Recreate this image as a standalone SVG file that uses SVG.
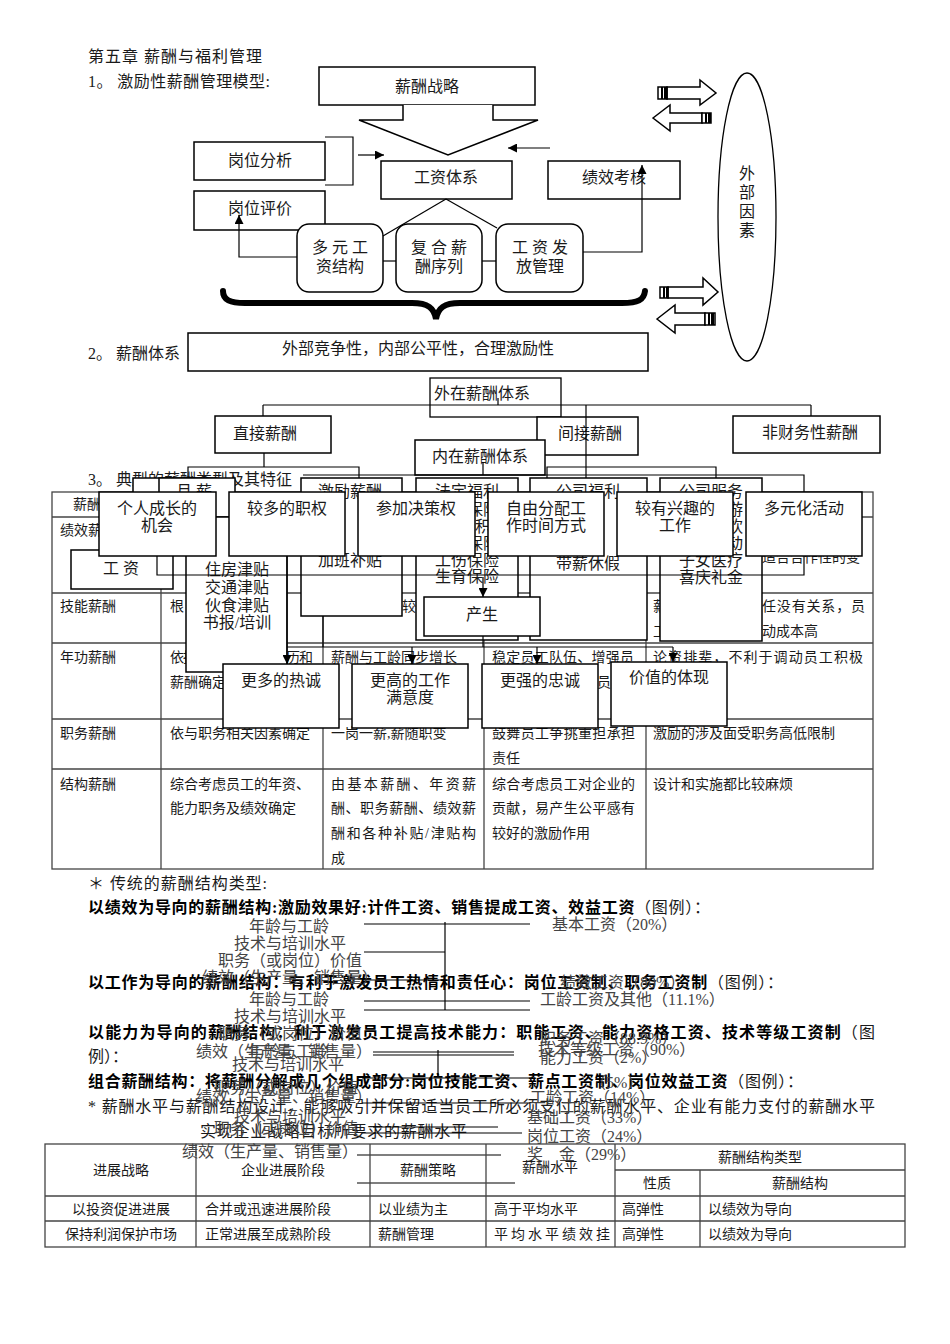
<svg xmlns="http://www.w3.org/2000/svg" width="950" height="1344" viewBox="0 0 950 1344">
<defs>
<marker id="ah" viewBox="0 0 10 10" refX="10" refY="5" markerWidth="9" markerHeight="9" orient="auto" markerUnits="userSpaceOnUse"><path d="M0,0 L10,5 L0,10 Z" fill="#000"/></marker>
<style>
text{font-family:"Liberation Serif","Noto Sans CJK SC",serif;fill:#1a1a1a}
.f16{font-size:16px}
.f15{font-size:15px}
.f14{font-size:14px}
.c{text-anchor:middle}
.b{font-weight:bold;fill:#000}
.g{fill:#444}
.bx{fill:#fff;stroke:#000;stroke-width:1.5}
.bo{fill:none;stroke:#000;stroke-width:1.3}
.ln{fill:none;stroke:#000;stroke-width:1.2}
.tl{fill:none;stroke:#444;stroke-width:1.3}
.st{fill:#000}
</style>
</defs>
<rect width="950" height="1344" fill="#fff"/>

<g id="heading">
<text class="f16" x="88" y="62" textLength="174">第五章 薪酬与福利管理</text>
<text class="f16" x="88" y="87" textLength="182">1。 激励性薪酬管理模型:</text>
</g>

<!-- ===== Section 1: model ===== -->
<g id="n-strategy"><rect class="bx" x="319" y="67" width="216" height="38"/><text class="f16 c" x="427" y="92">薪酬战略</text></g>
<g id="n-chevron"><path class="bx" d="M403,105 L403,120 L359,120 L448,155 L538,120 L493,120 L493,105"/></g>
<g id="n-gwfx"><rect class="bx" x="194" y="142" width="131" height="38"/><text class="f16 c" x="260" y="166">岗位分析</text></g>
<g id="n-gwpj"><rect class="bx" x="194" y="191" width="131" height="39"/><text class="f16 c" x="260" y="214">岗位评价</text></g>
<g id="n-gztx"><rect class="bx" x="381" y="161" width="131" height="38"/><text class="f16 c" x="446" y="183">工资体系</text></g>
<g id="n-jxkh"><rect class="bx" x="548" y="161" width="132" height="38"/><text class="f16 c" x="614" y="183">绩效考核</text></g>
<g id="n-dygz"><rect class="bx" x="297" y="224" width="86" height="68" rx="12"/><text class="f16 c" x="340" y="253">多 元 工</text><text class="f16 c" x="340" y="272">资结构</text></g>
<g id="n-fhxc"><rect class="bx" x="396" y="224" width="86" height="68" rx="12"/><text class="f16 c" x="439" y="253">复 合 薪</text><text class="f16 c" x="439" y="272">酬序列</text></g>
<g id="n-gzff"><rect class="bx" x="496" y="224" width="87" height="68" rx="12"/><text class="f16 c" x="540" y="253">工 资 发</text><text class="f16 c" x="540" y="272">放管理</text></g>
<g id="n-external"><ellipse class="bo" cx="747" cy="217" rx="29" ry="144"/>
<text class="f16 c" x="747" y="179">外</text><text class="f16 c" x="747" y="198">部</text><text class="f16 c" x="747" y="217">因</text><text class="f16 c" x="747" y="236">素</text></g>
<g id="n-hollow-arrows">
<path class="bx" d="M667,87 H700 V80 L716,93 L700,105 V99 H667 Z"/>
<rect x="658" y="87" width="9" height="12" class="bx" stroke-width="1"/><rect class="st" x="661" y="87" width="2" height="12"/><rect class="st" x="664" y="87" width="3" height="12"/>
<path class="bx" d="M653,118 L670,105 V113 H702 V123 H670 V131 Z"/>
<rect x="702" y="113" width="9" height="10" class="bx" stroke-width="1"/><rect class="st" x="705" y="113" width="2" height="10"/><rect class="st" x="708" y="113" width="3" height="10"/>
<path class="bx" d="M668,287 H703 V278 L718,292 L703,305 V298 H668 Z"/>
<rect x="660" y="287" width="8" height="11" class="bx" stroke-width="1"/><rect class="st" x="663" y="287" width="2" height="11"/><rect class="st" x="666" y="287" width="2" height="11"/>
<path class="bx" d="M657,319 L675,305 V313 H705 V325 H675 V333 Z"/>
<rect x="705" y="313" width="10" height="12" class="bx" stroke-width="1"/><rect class="st" x="708" y="313" width="2" height="12"/><rect class="st" x="711" y="313" width="3" height="12"/>
</g>

<g id="connectors-model">
<polyline class="ln" points="325,137 353,137 353,185 325,185"/>
<line class="ln" x1="358" y1="155" x2="384" y2="155" marker-end="url(#ah)"/>
<line class="ln" x1="550" y1="148" x2="508" y2="148" marker-end="url(#ah)"/>
<line class="ln" x1="446" y1="199" x2="383" y2="236"/>
<line class="ln" x1="446" y1="199" x2="497" y2="228"/>
<line class="ln" x1="383" y1="261" x2="396" y2="261"/>
<line class="ln" x1="482" y1="261" x2="496" y2="261"/>
<polyline class="ln" points="297,257 239,257 239,215" marker-end="url(#ah)"/>
<polyline class="ln" points="583,252 642,252 642,165" marker-end="url(#ah)"/>
<path d="M223,291 C223,300 230,303 245,303 L412,303 C428,303 434,308 436,319 C438,308 444,303 460,303 L622,303 C638,303 644,300 645,291" fill="none" stroke="#000" stroke-width="6" stroke-linecap="round"/>
</g>

<!-- ===== Section 2 ===== -->
<g id="sec2-title"><text class="f16" x="88" y="359">2。 薪酬体系</text></g>
<g id="n-principle"><rect class="bx" x="188" y="333" width="460" height="38"/><text class="f16 c" x="418" y="354">外部竞争性，内部公平性，合理激励性</text></g>

<!-- ===== Section 3 table ===== -->
<g id="table1">
<text class="f16" x="88" y="485">3。 典型的薪酬类型及其特征</text>
<g class="tl">
<rect x="52" y="492" width="821" height="377"/>
<line x1="52" y1="517" x2="873" y2="517"/>
<line x1="52" y1="593" x2="873" y2="593"/>
<line x1="52" y1="643" x2="873" y2="643"/>
<line x1="52" y1="719" x2="873" y2="719"/>
<line x1="52" y1="769" x2="873" y2="769"/>
<line x1="161" y1="492" x2="161" y2="869"/>
<line x1="323" y1="492" x2="323" y2="869"/>
<line x1="484" y1="492" x2="484" y2="869"/>
<line x1="646" y1="492" x2="646" y2="869"/>
</g>
<text class="f14" x="73" y="509">薪酬类型</text>
<text class="f14" x="60" y="535">绩效薪酬</text>
<text class="f14" x="762" y="562">适合合作性的变</text>
<text class="f14" x="60" y="611">技能薪酬</text>
<text class="f14" x="170" y="611">根</text>
<text class="f14" x="402" y="611">较高</text>
<text class="f14" x="653" y="611">薪</text>
<text class="f14" x="762" y="611" textLength="103">任没有关系，员</text>
<text class="f14" x="653" y="636">工</text>
<text class="f14" x="762" y="636">动成本高</text>
<text class="f14" x="60" y="662">年功薪酬</text>
<text class="f14" x="170" y="662" textLength="143">依据员工的年资、学历和</text>
<text class="f14" x="170" y="687">薪酬确定</text>
<text class="f14" x="331" y="662">薪酬与工龄同步增长</text>
<text class="f14" x="492" y="662" textLength="142">稳定员工队伍、增强员</text>
<text class="f14" x="597" y="687">员</text>
<text class="f14" x="653" y="662" textLength="210">论资排辈，不利于调动员工积极</text>
<text class="f14" x="60" y="738">职务薪酬</text>
<text class="f14" x="170" y="738">依与职务相关因素确定</text>
<text class="f14" x="331" y="738">一岗一薪,薪随职变</text>
<text class="f14" x="492" y="738" textLength="143">鼓舞员工争挑重担承担</text>
<text class="f14" x="492" y="763">责任</text>
<text class="f14" x="653" y="738">激励的涉及面受职务高低限制</text>
<text class="f14" x="60" y="789">结构薪酬</text>
<text class="f14" x="170" y="789">综合考虑员工的年资、</text>
<text class="f14" x="170" y="813">能力职务及绩效确定</text>
<text class="f14" x="331" y="789" textLength="145">由基本薪酬、年资薪</text>
<text class="f14" x="331" y="813" textLength="145">酬、职务薪酬、绩效薪</text>
<text class="f14" x="331" y="838" textLength="145">酬和各种补贴/津贴构</text>
<text class="f14" x="331" y="863">成</text>
<text class="f14" x="492" y="789" textLength="143">综合考虑员工对企业的</text>
<text class="f14" x="492" y="813" textLength="143">贡献，易产生公平感有</text>
<text class="f14" x="492" y="838">较好的激励作用</text>
<text class="f14" x="653" y="789">设计和实施都比较麻烦</text>
</g>

<!-- ===== Section 2 tree (overlaps table) ===== -->
<g id="n-waizai"><rect class="bo" x="430" y="378" width="131" height="39"/><text class="f16 c" x="482" y="399">外在薪酬体系</text></g>
<g id="n-zhijie"><rect class="bx" x="215" y="416" width="116" height="37"/><text class="f16 c" x="265" y="439">直接薪酬</text></g>
<g id="n-jianjie"><rect class="bx" x="537" y="417" width="101" height="38"/><text class="f16 c" x="590" y="439">间接薪酬</text></g>
<g id="n-feicaiwu"><rect class="bx" x="733" y="416" width="147" height="37"/><text class="f16 c" x="810" y="438">非财务性薪酬</text></g>
<g id="n-neizai"><rect class="bx" x="415" y="440" width="130" height="35"/><text class="f16 c" x="480" y="462">内在薪酬体系</text></g>

<g id="n-yuexin1"><rect class="bx" x="133" y="478" width="84" height="40"/></g>
<g id="n-yuexin"><rect class="bx" x="159" y="478" width="76" height="39"/><text class="f16" x="176" y="497">月  薪</text></g>
<g id="n-gongzi"><rect class="bx" x="71" y="550" width="102" height="39"/><text class="f16 c" x="121" y="574">工  资</text></g>
<g id="n-jintie"><rect class="bx" x="186" y="517" width="101" height="155"/>
<text class="f16 c" x="237" y="575">住房津贴</text><text class="f16 c" x="237" y="593">交通津贴</text><text class="f16 c" x="237" y="611">伙食津贴</text><text class="f16 c" x="237" y="628">书报/培训</text></g>
<g id="n-jili"><rect class="bx" x="301" y="478" width="101" height="138"/>
<text class="f16 c" x="350" y="497">激励薪酬</text><text class="f16 c" x="350" y="566">加班补贴</text></g>
<g id="n-fading"><rect class="bx" x="416" y="478" width="102" height="162"/>
<text class="f16 c" x="467" y="497">法定福利</text><text class="f16 c" x="467" y="515">养老保险</text><text class="f16 c" x="467" y="532">住房公积金</text><text class="f16 c" x="467" y="549">医疗保险</text><text class="f16 c" x="467" y="566">工伤保险</text><text class="f16 c" x="467" y="582">生育保险</text></g>
<g id="n-gongsifuli"><rect class="bx" x="530" y="478" width="117" height="162"/>
<text class="f16 c" x="588" y="497">公司福利</text><text class="f16 c" x="588" y="569">带薪休假</text></g>
<g id="n-fuwu"><rect class="bx" x="660" y="478" width="102" height="163"/>
<text class="f16 c" x="711" y="497">公司服务</text><text class="f16 c" x="711" y="515">免费旅游</text><text class="f16 c" x="711" y="532">免费餐饮</text><text class="f16 c" x="711" y="549">文体活动</text><text class="f16 c" x="711" y="566">子女医疗</text><text class="f16 c" x="711" y="583">喜庆礼金</text></g>
<g id="n-chansheng"><rect class="bx" x="424" y="597" width="116" height="39"/><text class="f16 c" x="482" y="620">产生</text></g>

<g id="connectors-tree">
<line class="ln" x1="263" y1="405" x2="811" y2="405"/>
<line class="ln" x1="263" y1="405" x2="263" y2="416"/>
<line class="ln" x1="811" y1="405" x2="811" y2="416"/>
<line class="ln" x1="498" y1="398" x2="498" y2="405"/>
<line class="ln" x1="586" y1="405" x2="586" y2="478"/>
<line class="ln" x1="264" y1="453" x2="264" y2="467"/>
<polyline class="ln" points="188,478 188,467 359,467 359,478"/>
<line class="ln" x1="483" y1="462" x2="483" y2="475"/>
<polyline class="ln" points="547,478 547,467 716,467 716,478"/>
<path class="ln" d="M303,475 H804 V575 H157 V556"/>
<line class="ln" x1="483" y1="577" x2="483" y2="597" marker-end="url(#ah)"/>
<line class="ln" x1="287" y1="556" x2="287" y2="664" marker-end="url(#ah)"/>
<line class="ln" x1="323" y1="616" x2="323" y2="647"/>
<line class="ln" x1="483" y1="636" x2="483" y2="647"/>
<line class="ln" x1="287" y1="647" x2="673" y2="647"/>
<line class="ln" x1="412" y1="647" x2="412" y2="664" marker-end="url(#ah)"/>
<line class="ln" x1="537" y1="647" x2="537" y2="664" marker-end="url(#ah)"/>
<line class="ln" x1="673" y1="647" x2="673" y2="662" marker-end="url(#ah)"/>
</g>

<g id="n-chengzhang"><rect class="bx" x="99" y="492" width="117" height="64"/><text class="f16 c" x="157" y="514">个人成长的</text><text class="f16 c" x="157" y="531">机会</text></g>
<g id="n-zhiquan"><rect class="bx" x="229" y="492" width="116" height="64"/><text class="f16 c" x="287" y="514">较多的职权</text></g>
<g id="n-juece"><rect class="bx" x="358" y="492" width="117" height="64"/><text class="f16 c" x="416" y="514">参加决策权</text></g>
<g id="n-ziyou"><rect class="bx" x="488" y="492" width="116" height="64"/><text class="f16 c" x="546" y="514">自由分配工</text><text class="f16 c" x="546" y="531">作时间方式</text></g>
<g id="n-xingqu"><rect class="bx" x="617" y="492" width="116" height="64"/><text class="f16 c" x="675" y="514">较有兴趣的</text><text class="f16 c" x="675" y="531">工作</text></g>
<g id="n-duoyuan"><rect class="bx" x="746" y="492" width="116" height="64"/><text class="f16 c" x="804" y="514">多元化活动</text></g>

<g id="n-rencheng"><rect class="bx" x="223" y="664" width="116" height="64"/><text class="f16 c" x="281" y="686">更多的热诚</text></g>
<g id="n-manyi"><rect class="bx" x="352" y="664" width="116" height="64"/><text class="f16 c" x="410" y="686">更高的工作</text><text class="f16 c" x="410" y="703">满意度</text></g>
<g id="n-zhongcheng"><rect class="bx" x="482" y="664" width="116" height="64"/><text class="f16 c" x="540" y="686">更强的忠诚</text></g>
<g id="n-jiazhi"><rect class="bx" x="611" y="662" width="116" height="64"/><text class="f16 c" x="669" y="683">价值的体现</text></g>

<!-- ===== Salary structure text ===== -->
<g id="structure-text">
<text class="f16" x="88" y="889" textLength="179">＊ 传统的薪酬结构类型:</text>
<text class="f16" x="88" y="913" textLength="622"><tspan class="b">以绩效为导向的薪酬结构:激励效果好:计件工资、销售提成工资、效益工资</tspan>（图例）：</text>
<text class="f16" x="88" y="988" textLength="695"><tspan class="b">以工作为导向的薪酬结构：有利于激发员工热情和责任心：岗位工资制、职务工资制</tspan>（图例）：</text>
<text class="f16" x="88" y="1038" textLength="787"><tspan class="b">以能力为导向的薪酬结构：利于激发员工提高技术能力：职能工资、能力资格工资、技术等级工资制</tspan>（图</text>
<text class="f16" x="88" y="1062">例）：</text>
<text class="f16" x="88" y="1087" textLength="715"><tspan class="b">组合薪酬结构：将薪酬分解成几个组成部分:岗位技能工资、薪点工资制、岗位效益工资</tspan>（图例）：</text>
<text class="f16" x="88" y="1112" textLength="787">* 薪酬水平与薪酬结构设计，能够吸引并保留适当员工所必须支付的薪酬水平、企业有能力支付的薪酬水平</text>
<text class="f16" x="200" y="1137" textLength="267">实现企业战略目标所要求的薪酬水平</text>
</g>

<g id="chart1">
<text class="f16 c g" x="289" y="932">年龄与工龄</text>
<text class="f16 c g" x="290" y="949">技术与培训水平</text>
<text class="f16 c g" x="290" y="966">职务（或岗位）价值</text>
<text class="f16 c g" x="290" y="983">绩效（生产量、销售量）</text>
<text class="f16 g" x="552" y="930">基本工资（20%）</text>
<text class="f16 g" x="560" y="988">绩效工资（80%）</text>
<g class="ln"><line x1="364" y1="924" x2="530" y2="924"/><line x1="364" y1="952" x2="445" y2="952"/><line x1="364" y1="980" x2="445" y2="980"/><line x1="445" y1="922" x2="445" y2="1010"/></g>
</g>
<g id="chart2">
<text class="f16 c g" x="289" y="1005">年龄与工龄</text>
<text class="f16 c g" x="290" y="1022">技术与培训水平</text>
<text class="f16 c g" x="290" y="1039">职务（或岗位）价值</text>
<text class="f16 c g" x="284" y="1057">绩效（生产量、销售量）</text>
<text class="f16 g" x="540" y="1005">工龄工资及其他（11.1%）</text>
<text class="f16 g" x="540" y="1044">职务工资（88.9%）</text>
<g class="ln"><line x1="364" y1="1001" x2="530" y2="1001"/><line x1="364" y1="1010" x2="530" y2="1010"/></g>
</g>
<g id="chart3">
<text class="f16 c g" x="288" y="1057">年龄与工龄</text>
<text class="f16 c g" x="288" y="1070">技术与培训水平</text>
<text class="f16 g" x="538" y="1055">技术等级工资（90%）</text>
<text class="f16 g" x="540" y="1063">能力工资（2%）</text>
<g class="ln"><line x1="373" y1="1052" x2="514" y2="1052"/><line x1="373" y1="1055" x2="514" y2="1055"/><line x1="438" y1="1050" x2="438" y2="1077"/><line x1="362" y1="1078" x2="535" y2="1078"/></g>
</g>
<g id="chart4">
<text class="f16 c g" x="286" y="1093">职务（或岗位）价值</text>
<text class="f16 c g" x="284" y="1102">绩效（生产量、销售量）</text>
<text class="f16 c g" x="290" y="1122">技术与培训水平</text>
<text class="f16 c g" x="286" y="1134">职务（或岗位）价值</text>
<text class="f16 c g" x="270" y="1157">绩效（生产量、销售量）</text>
<text class="f16 g" x="590" y="1088">（5%）</text>
<text class="f16 g" x="530" y="1103">工龄工资（14%）</text>
<text class="f16 g" x="527" y="1123">基础工资（33%）</text>
<text class="f16 g" x="527" y="1142">岗位工资（24%）</text>
<text class="f16 g" x="527" y="1160">奖　金（29%）</text>
<g class="ln"><line x1="362" y1="1103" x2="530" y2="1103"/><line x1="373" y1="1127" x2="498" y2="1127"/><line x1="362" y1="1133" x2="522" y2="1133"/><line x1="357" y1="1155" x2="501" y2="1155"/><line x1="357" y1="1183" x2="515" y2="1183"/></g>
</g>

<!-- ===== Bottom table ===== -->
<g id="table2">
<g class="tl">
<rect x="45" y="1144" width="860" height="103"/>
<line x1="45" y1="1196" x2="905" y2="1196"/>
<line x1="45" y1="1221" x2="905" y2="1221"/>
<line x1="615" y1="1170" x2="905" y2="1170"/>
<line x1="196" y1="1144" x2="196" y2="1247"/>
<line x1="370" y1="1144" x2="370" y2="1247"/>
<line x1="486" y1="1144" x2="486" y2="1247"/>
<line x1="615" y1="1144" x2="615" y2="1247"/>
<line x1="700" y1="1170" x2="700" y2="1247"/>
</g>
<text class="f14 c" x="121" y="1175">进展战略</text>
<text class="f14 c" x="283" y="1175">企业进展阶段</text>
<text class="f14 c" x="428" y="1175">薪酬策略</text>
<text class="f14 c" x="550" y="1172">薪酬水平</text>
<text class="f14 c" x="760" y="1162">薪酬结构类型</text>
<text class="f14 c" x="657" y="1188">性质</text>
<text class="f14 c" x="800" y="1188">薪酬结构</text>
<text class="f14 c" x="121" y="1214">以投资促进进展</text>
<text class="f14" x="205" y="1214">合并或迅速进展阶段</text>
<text class="f14" x="378" y="1214">以业绩为主</text>
<text class="f14" x="494" y="1214">高于平均水平</text>
<text class="f14" x="622" y="1214">高弹性</text>
<text class="f14" x="708" y="1214">以绩效为导向</text>
<text class="f14 c" x="121" y="1239">保持利润保护市场</text>
<text class="f14" x="205" y="1239">正常进展至成熟阶段</text>
<text class="f14" x="378" y="1239">薪酬管理</text>
<text class="f14" x="494" y="1239" textLength="116">平均水平绩效挂</text>
<text class="f14" x="622" y="1239">高弹性</text>
<text class="f14" x="708" y="1239">以绩效为导向</text>
</g>
</svg>
